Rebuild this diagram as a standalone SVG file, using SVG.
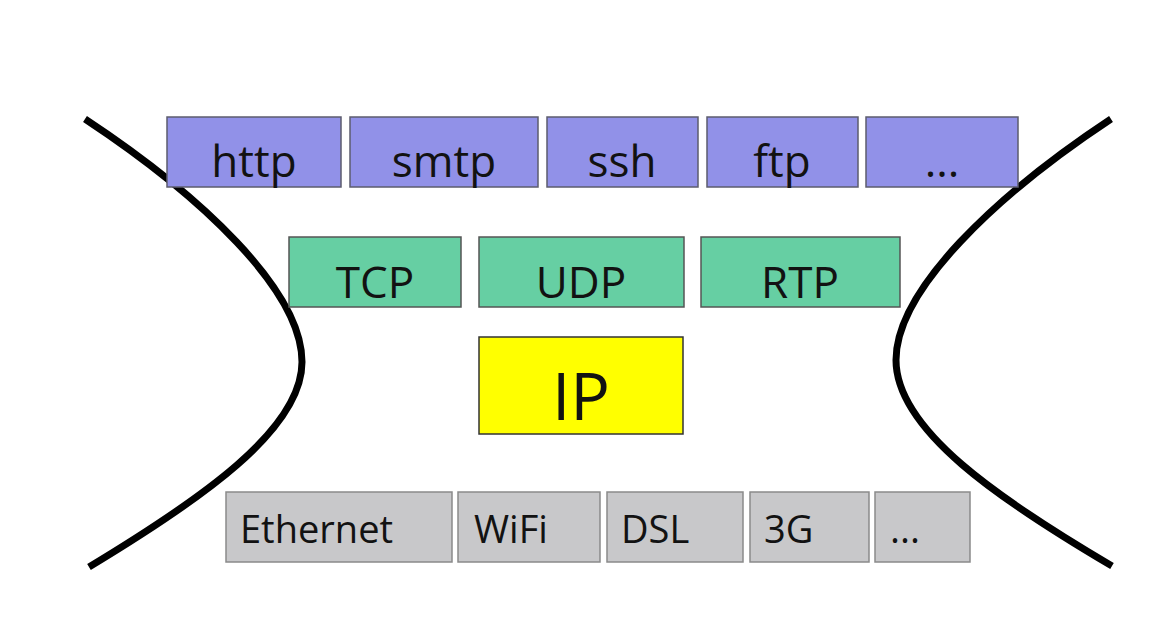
<svg xmlns="http://www.w3.org/2000/svg" width="1172" height="619" viewBox="0 0 1172 619">
<style>
  .app rect { fill: #9191e8; stroke: #5c5c6e; stroke-width: 1.5; }
  .tr rect { fill: #66cfa3; stroke: #555; stroke-width: 1.5; }
  .ip rect { fill: #ffff00; stroke: #333; stroke-width: 1.5; }
  .ll rect { fill: #c8c8ca; stroke: #8a8a8a; stroke-width: 1.5; }
  text { font-family: "Open Sans", "Noto Sans", sans-serif; fill: #121212; }
  .app text, .tr text { font-size: 44px; text-anchor: middle; }
  .ip text { font-size: 66px; text-anchor: middle; }
  .ll text { font-size: 38px; }
  .curve { fill: none; stroke: #000; stroke-width: 7; }
</style>
<rect x="0" y="0" width="1172" height="619" fill="#ffffff"/>
<g id="hourglass">
  <path class="curve" d="M85,119 C200,195 302,290 302,362 C302,430 200,500 89,567"/>
  <path class="curve" d="M1111,119 C996,195 896,290 896,360 C896,430 1000,500 1112,566"/>
</g>
<g id="http" class="app"><rect x="167" y="117" width="174" height="70"/><text x="254" y="177">http</text></g>
<g id="smtp" class="app"><rect x="350" y="117" width="188" height="70"/><text x="444" y="177">smtp</text></g>
<g id="ssh" class="app"><rect x="547" y="117" width="151" height="70"/><text x="622" y="177">ssh</text></g>
<g id="ftp" class="app"><rect x="707" y="117" width="151" height="70"/><text x="782" y="177">ftp</text></g>
<g id="app-more" class="app"><rect x="866" y="117" width="152" height="70"/><text x="942" y="177">...</text></g>
<g id="tcp" class="tr"><rect x="289" y="237" width="172" height="70"/><text x="375" y="298">TCP</text></g>
<g id="udp" class="tr"><rect x="479" y="237" width="205" height="70"/><text x="581" y="298">UDP</text></g>
<g id="rtp" class="tr"><rect x="701" y="237" width="199" height="70"/><text x="800" y="298">RTP</text></g>
<g id="ip" class="ip"><rect x="479" y="337" width="204" height="97"/><text x="581" y="420">IP</text></g>
<g id="ethernet" class="ll"><rect x="226" y="492" width="226" height="70"/><text x="240" y="543">Ethernet</text></g>
<g id="wifi" class="ll"><rect x="458" y="492" width="142" height="70"/><text x="474" y="543">WiFi</text></g>
<g id="dsl" class="ll"><rect x="607" y="492" width="136" height="70"/><text x="621" y="543">DSL</text></g>
<g id="g3" class="ll"><rect x="750" y="492" width="119" height="70"/><text x="764" y="543">3G</text></g>
<g id="link-more" class="ll"><rect x="875" y="492" width="95" height="70"/><text x="890" y="543">...</text></g>
</svg>
